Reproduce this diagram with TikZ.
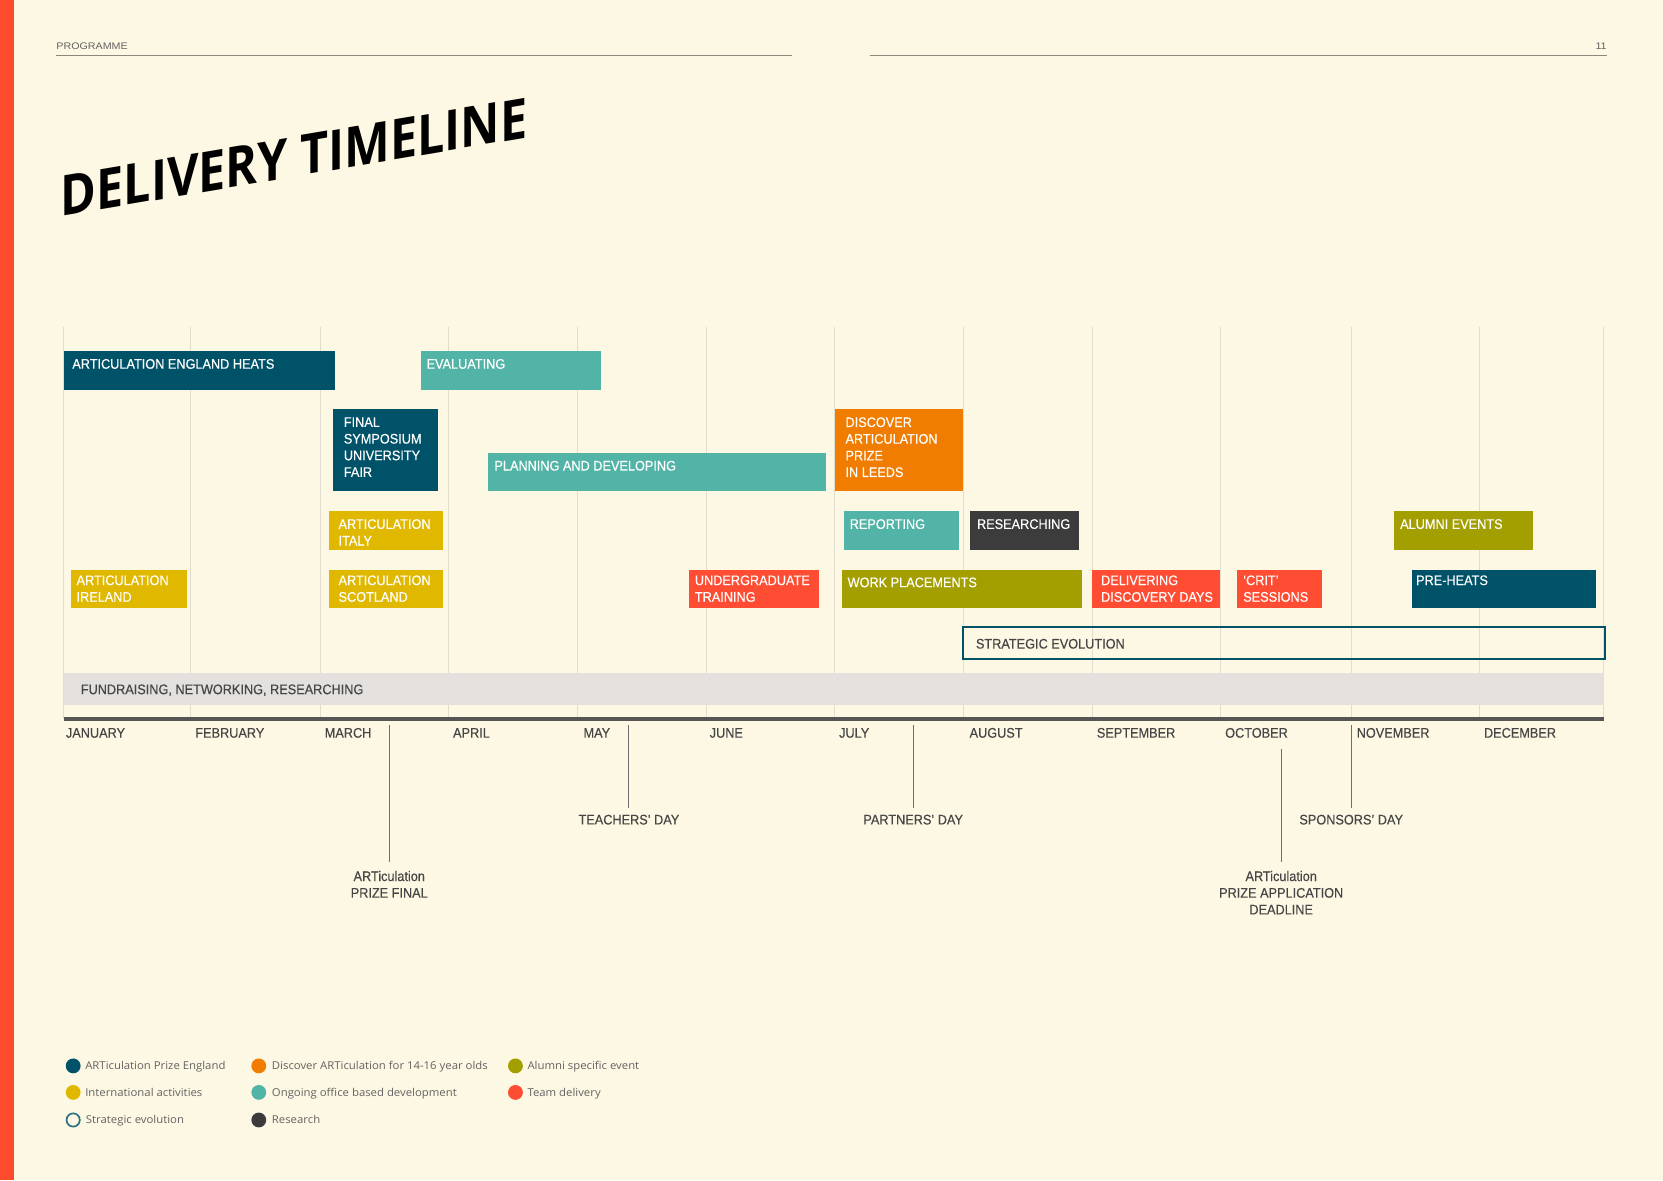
\documentclass[tikz,border=0pt]{standalone}
\usepackage{fontspec}
\setmainfont{Liberation Sans}
\newfontfamily\barfont[FakeStretch=0.915, FakeBold=0.35]{Liberation Sans}
\newfontfamily\titlefont[FakeStretch=0.865]{Open Sans}
\newfontfamily\keyfont[FakeStretch=1.05]{Open Sans}
\newfontfamily\headfont[FakeStretch=1.12]{Liberation Sans}
\usetikzlibrary{positioning}
\definecolor{PageCream}{RGB}{253, 248, 227}
\definecolor{EdgeRed}{RGB}{255, 75, 45}
\definecolor{PrizeTeal}{RGB}{0, 82, 104}
\definecolor{OfficeTeal}{RGB}{82, 180, 166}
\definecolor{DiscoverOrange}{RGB}{240, 124, 0}
\definecolor{IntlYellow}{RGB}{225, 184, 0}
\definecolor{AlumniOlive}{RGB}{163, 159, 0}
\definecolor{TeamRed}{RGB}{255, 77, 51}
\definecolor{ResearchGrey}{RGB}{60, 60, 60}
\definecolor{BandGrey}{RGB}{227, 224, 221}
\definecolor{GridLine}{RGB}{226, 221, 205}
\definecolor{AxisGrey}{RGB}{85, 85, 85}
\definecolor{LabelGrey}{RGB}{70, 70, 70}
\definecolor{RuleBrown}{RGB}{140, 135, 122}
\definecolor{RingTeal}{RGB}{46, 110, 133}

\begin{document}
\begin{tikzpicture}[x=1pt, y=-1pt,
    barlabel/.style={anchor=north west, inner sep=0pt, text=white, align=left, font=\barfont\fontsize{13.1}{15.7}\selectfont},
    monthlabel/.style={anchor=base west, inner sep=0pt, text=LabelGrey, font=\barfont\fontsize{13.1}{15.7}\selectfont},
    eventlabel/.style={anchor=north, inner sep=0pt, align=center, text=LabelGrey, font=\barfont\fontsize{13.1}{15.7}\selectfont},
    eventline/.style={draw=AxisGrey!85, line width=0.9pt, shorten >=6pt},
    headtext/.style={inner sep=0pt, text=LabelGrey!85, font=\headfont\fontsize{9}{10}\selectfont},
    keydot/.style={circle, inner sep=0pt, minimum size=14pt},
    keytext/.style={inner sep=0pt, text height=7.3pt, text depth=0pt, text=LabelGrey!85, font=\keyfont\fontsize{10.2}{12}\selectfont}]

    % Page and margin stripe
    \fill[PageCream] (0,0) rectangle (1568,1113);
    \useasboundingbox (0,0) rectangle (1568,1113);
    \fill[EdgeRed] (0,0) rectangle (13,1113);

    % Running head
    \node[headtext, anchor=base west] (runhead) at (53,46.5) {PROGRAMME};
    \node[headtext, anchor=base east] (folio) at (1515,46.5) {11};
    \draw[RuleBrown, line width=1.2pt] (53,52) -- (747,52);
    \draw[RuleBrown, line width=1.2pt] (820,52) -- (1515,52);

    % Title
    \node[anchor=base west, inner sep=0pt, yslant=0.169, font=\titlefont\fontsize{52.8}{60}\selectfont\bfseries] (title) at (57,204) {DELIVERY TIMELINE};

    % Month grid
    \foreach \gx in {60,180,302,423,544,666,787,908,1030,1151,1274,1395,1512}
      \draw[GridLine, line width=0.8pt] (\gx,308) -- (\gx,678);

    % Ongoing band
    \fill[BandGrey] (60,635) rectangle (1512,665);
    \node[monthlabel] (fundraising) at (76,654.5) {FUNDRAISING, NETWORKING, RESEARCHING};

    % Row 1
    \fill[PrizeTeal] (60,331) rectangle (316,368);
    \node[barlabel] (heats) at (68,338.3) {ARTICULATION ENGLAND HEATS};
    \fill[OfficeTeal] (397,331) rectangle (567,368);
    \node[barlabel] (evaluating) at (402,338.3) {EVALUATING};

    % Row 2
    \fill[PrizeTeal] (314,386) rectangle (413,463);
    \node[barlabel] (symposium) at (324,393.3) {FINAL\\SYMPOSIUM\\UNIVERSITY\\FAIR};
    \fill[OfficeTeal] (460,427) rectangle (779,463);
    \node[barlabel] (planning) at (466,434.3) {PLANNING AND DEVELOPING};
    \fill[DiscoverOrange] (787,386) rectangle (908,463);
    \node[barlabel] (discover) at (797,393.3) {DISCOVER\\ARTICULATION\\PRIZE\\IN LEEDS};

    % Row 3
    \fill[IntlYellow] (310,482) rectangle (418,519);
    \node[barlabel] (italy) at (319,489.3) {ARTICULATION\\ITALY};
    \fill[OfficeTeal] (796,482) rectangle (904,519);
    \node[barlabel] (reporting) at (801,489.3) {REPORTING};
    \fill[ResearchGrey] (915,482) rectangle (1017,519);
    \node[barlabel] (researching) at (921,489.3) {RESEARCHING};
    \fill[AlumniOlive] (1314,482) rectangle (1445,519);
    \node[barlabel] (alumni) at (1320,489.3) {ALUMNI EVENTS};

    % Row 4
    \fill[IntlYellow] (67,537) rectangle (176,573);
    \node[barlabel] (ireland) at (72,542.3) {ARTICULATION\\IRELAND};
    \fill[IntlYellow] (310,537) rectangle (418,573);
    \node[barlabel] (scotland) at (319,542.3) {ARTICULATION\\SCOTLAND};
    \fill[TeamRed] (650,537) rectangle (772,573);
    \node[barlabel] (undergrad) at (655,542.3) {UNDERGRADUATE\\TRAINING};
    \fill[AlumniOlive] (794,537) rectangle (1020,573);
    \node[barlabel] (placements) at (799,544.3) {WORK PLACEMENTS};
    \fill[TeamRed] (1030,537) rectangle (1150,573);
    \node[barlabel] (discdays) at (1038,542.3) {DELIVERING\\DISCOVERY DAYS};
    \fill[TeamRed] (1166,537) rectangle (1246,573);
    \node[barlabel] (crit) at (1172,542.3) {‘CRIT’\\SESSIONS};
    \fill[PrizeTeal] (1331,537) rectangle (1505,573);
    \node[barlabel] (preheats) at (1335,542.3) {PRE-HEATS};

    % Strategic evolution
    \draw[PrizeTeal, line width=1.8pt] (908,591) rectangle (1513,621);
    \node[monthlabel] (strategy) at (920,611.5) {STRATEGIC EVOLUTION};

    % Axis and months
    \draw[AxisGrey, line width=3pt] (60,678) -- (1512,678);
    \foreach \mon/\mx [count=\i from 0] in {JANUARY/62,FEBRUARY/184,MARCH/306,APRIL/427,MAY/550,JUNE/669,JULY/791,AUGUST/914,SEPTEMBER/1034,OCTOBER/1155,NOVEMBER/1279,DECEMBER/1399}
      \node[monthlabel] (mon\i) at (\mx,695.5) {\mon};

    % Key dates
    \node[eventlabel] (final) at (367,821) {ARTiculation\\PRIZE FINAL};
    \node[eventlabel] (teachers) at (593,768) {TEACHERS’ DAY};
    \node[eventlabel] (partners) at (861,768) {PARTNERS’ DAY};
    \node[eventlabel] (deadline) at (1208,821) {ARTiculation\\PRIZE APPLICATION\\DEADLINE};
    \node[eventlabel] (sponsors) at (1274,768) {SPONSORS’ DAY};
    \coordinate (finaltick) at (367,684);
    \coordinate (teacherstick) at (593,684);
    \coordinate (partnerstick) at (861,684);
    \coordinate (deadlinetick) at (1208,706);
    \coordinate (sponsorstick) at (1274,684);
    \draw[eventline, shorten >=8pt] (finaltick) -- (final.north);
    \draw[eventline] (teacherstick) -- (teachers.north);
    \draw[eventline] (partnerstick) -- (partners.north);
    \draw[eventline, shorten >=8pt] (deadlinetick) -- (deadline.north);
    \draw[eventline] (sponsorstick) -- (sponsors.north);

    % Legend
    \node[keydot, fill=PrizeTeal] (keyprize) at (69,1005) {};
    \node[keytext, right=4pt of keyprize] (keyprizetext) {ARTiculation Prize England};
    \node[keydot, fill=IntlYellow] (keyintl) at (69,1030) {};
    \node[keytext, right=4pt of keyintl] (keyintltext) {International activities};
    \node[keydot, draw=RingTeal, line width=1.6pt, minimum size=12.5pt] (keystrategy) at (69,1056) {};
    \node[keytext, right=4.8pt of keystrategy] (keystrategytext) {Strategic evolution};
    \node[keydot, fill=DiscoverOrange] (keydiscover) at (244,1005) {};
    \node[keytext, right=5pt of keydiscover] (keydiscovertext) {Discover ARTiculation for 14-16 year olds};
    \node[keydot, fill=OfficeTeal] (keyoffice) at (244,1030) {};
    \node[keytext, right=5pt of keyoffice] (keyofficetext) {Ongoing office based development};
    \node[keydot, fill=ResearchGrey] (keyresearch) at (244,1056) {};
    \node[keytext, right=5pt of keyresearch] (keyresearchtext) {Research};
    \node[keydot, fill=AlumniOlive] (keyalumni) at (486,1005) {};
    \node[keytext, right=4pt of keyalumni] (keyalumnitext) {Alumni specific event};
    \node[keydot, fill=TeamRed] (keyteam) at (486,1030) {};
    \node[keytext, right=4pt of keyteam] (keyteamtext) {Team delivery};
\end{tikzpicture}
\end{document}
